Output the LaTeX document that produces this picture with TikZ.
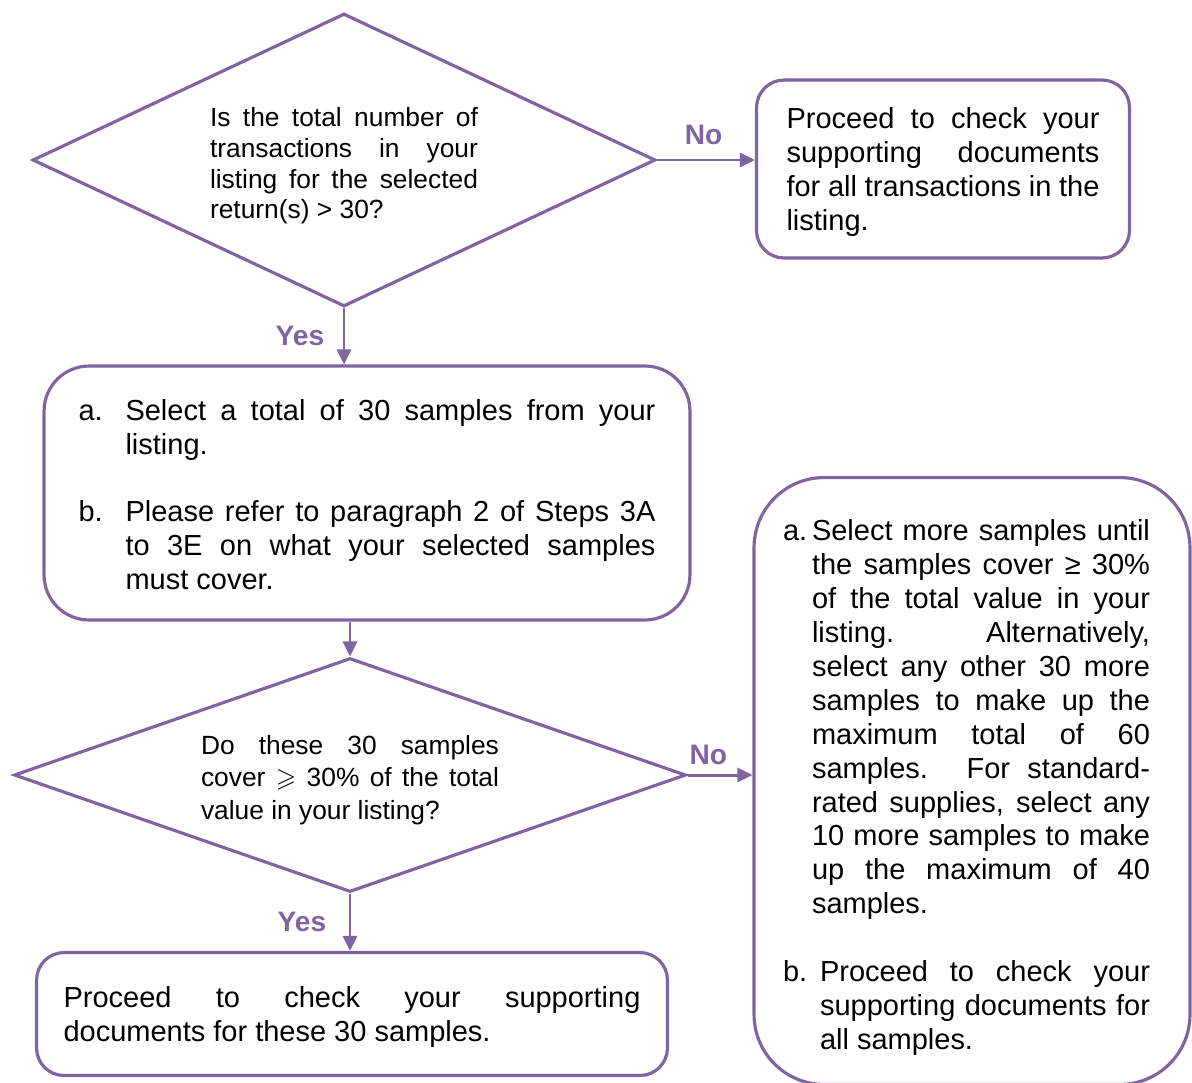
\documentclass[tikz,border=0pt]{standalone}
\usepackage{amssymb}
\usepackage{fontspec}
\setmainfont{Liberation Sans}
\usepackage{tikz}
\usetikzlibrary{positioning,arrows.meta,shapes.geometric}
\definecolor{flowpurple}{RGB}{128,100,162}
\tolerance=10000
\hbadness=10000
\newcommand\listitem[3]{\par\noindent\hangindent=#2\hangafter=1\makebox[#2][l]{#1}#3\par}

\begin{document}
\begin{tikzpicture}
	[x=0.02cm,y=-0.02cm,
	question/.style={diamond,draw=flowpurple,line width=1.8pt,aspect=2.5,inner sep=0pt,align=justify,font=\fontsize{15}{17.4}\selectfont},
	procbox/.style={rectangle,draw=flowpurple,line width=1.8pt,rounded corners=0.55cm,inner sep=0pt,align=justify,font=\fontsize{16.5}{19.35}\selectfont},
	flow/.style={draw=flowpurple,line width=1.7pt,-{Triangle[length=0.3cm,width=0.28cm]}},
	answer/.style={text=flowpurple,font=\fontsize{16}{19}\selectfont\bfseries}]
	\useasboundingbox (0,0) rectangle (1192,1082);
	\clip (0,0) rectangle (1192,1082);
	% first check
	\node[question,minimum width=12.46cm,minimum height=5.86cm,text width=5.36cm] (q1) at (344,160)
		{\rule{0pt}{17.7pt}Is the total number of\linebreak transactions in your\linebreak listing for the selected\linebreak return(s) > 30?};
	\node[procbox,minimum width=7.46cm,minimum height=3.56cm,text width=6.26cm] (r1) at (943,169)
		{\rule{0pt}{15.4pt}Proceed to check your\linebreak supporting documents\linebreak for all transactions in the\linebreak listing.};
	\node[procbox,rounded corners=0.9cm,minimum width=12.92cm,minimum height=5.08cm,text width=11.54cm] (s1) at (367,493)
		{\listitem{a.}{0.94cm}{Select a total of 30 samples from your\linebreak listing.}
		\vspace{\baselineskip}
		\listitem{b.}{0.94cm}{Please refer to paragraph 2 of Steps 3A\linebreak to 3E on what your selected samples\linebreak must cover.\rule[-5.7pt]{0pt}{5.7pt}}};
	% second check
	\node[question,font=\fontsize{15}{18.5}\selectfont,minimum width=13.44cm,minimum height=4.68cm,text width=5.96cm] (q2) at (350,775)
		{\rule{0pt}{16.6pt}Do these 30 samples\linebreak cover $\geqslant$ 30\% of the total\linebreak value in your listing?};
	\node[procbox,minimum width=12.62cm,minimum height=2.46cm,text width=11.54cm] (r2) at (352,1014)
		{\rule{0pt}{15.4pt}Proceed to check your supporting\linebreak documents for these 30 samples.};
	\node[procbox,rounded corners=1.4cm,minimum width=8.72cm,minimum height=12.14cm,text width=7.56cm] (r3) at (972,781)
		{\rightskip=0.22cm
		\listitem{a.}{0.58cm}{Select more samples until\linebreak the samples cover ≥ 30\%\linebreak of the total value in your\linebreak listing. Alternatively,\linebreak select any other 30 more\linebreak samples to make up the\linebreak maximum total of 60\linebreak samples. For standard-\linebreak rated supplies, select any\linebreak 10 more samples to make\linebreak up the maximum of 40\linebreak samples.}
		\vspace{\baselineskip}
		\listitem{b.}{0.74cm}{Proceed to check your\linebreak supporting documents for\linebreak all samples.}};
	% connectors
	\draw[flow] (q1.east) -- node[answer,above=0.16cm,pos=0.475] (no1) {No} (q1.east -| r1.west);
	\draw[flow] (q1.south) -- node[answer,left=0.25cm] (yes1) {Yes} (q1.south |- s1.north);
	\draw[flow] (q2.north |- s1.south) -- (q2.north);
	\draw[flow] (q2.east) -- node[answer,above=0.06cm,pos=0.32] (no2) {No} (q2.east -| r3.west);
	\draw[flow] (q2.south) -- node[answer,left=0.33cm] (yes2) {Yes} (q2.south |- r2.north);
\end{tikzpicture}
\end{document}
